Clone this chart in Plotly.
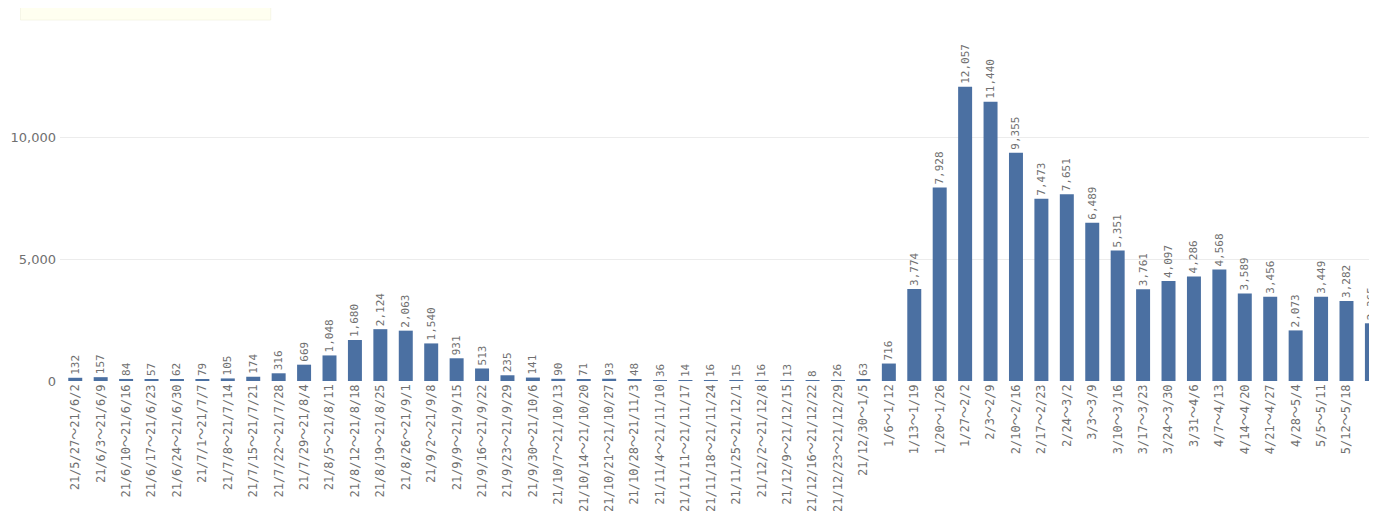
import plotly.graph_objects as go

categories = [
    "21/5/27～21/6/2", "21/6/3～21/6/9", "21/6/10～21/6/16", "21/6/17～21/6/23",
    "21/6/24～21/6/30", "21/7/1～21/7/7", "21/7/8～21/7/14", "21/7/15～21/7/21",
    "21/7/22～21/7/28", "21/7/29～21/8/4", "21/8/5～21/8/11", "21/8/12～21/8/18",
    "21/8/19～21/8/25", "21/8/26～21/9/1", "21/9/2～21/9/8", "21/9/9～21/9/15",
    "21/9/16～21/9/22", "21/9/23～21/9/29", "21/9/30～21/10/6", "21/10/7～21/10/13",
    "21/10/14～21/10/20", "21/10/21～21/10/27", "21/10/28～21/11/3", "21/11/4～21/11/10",
    "21/11/11～21/11/17", "21/11/18～21/11/24", "21/11/25～21/12/1", "21/12/2～21/12/8",
    "21/12/9～21/12/15", "21/12/16～21/12/22", "21/12/23～21/12/29", "21/12/30～1/5",
    "1/6～1/12", "1/13～1/19", "1/20～1/26", "1/27～2/2", "2/3～2/9", "2/10～2/16",
    "2/17～2/23", "2/24～3/2", "3/3～3/9", "3/10～3/16", "3/17～3/23", "3/24～3/30",
    "3/31～4/6", "4/7～4/13", "4/14～4/20", "4/21～4/27", "4/28～5/4", "5/5～5/11",
    "5/12～5/18", "5/19～5/25",
]
values = [
    132, 157, 84, 57, 62, 79, 105, 174, 316, 669, 1048, 1680, 2124, 2063, 1540, 931,
    513, 235, 141, 90, 71, 93, 48, 36, 14, 16, 15, 16, 13, 8, 26, 63,
    716, 3774, 7928, 12057, 11440, 9355, 7473, 7651, 6489, 5351, 3761, 4097,
    4286, 4568, 3589, 3456, 2073, 3449, 3282, 2365,
]
y_ticks = [0, 5000, 10000]
y_tick_text = ["0", "5,000", "10,000"]

BAR = "#4b70a2"
GRAY = "#707070"
MONO = "DejaVu Sans Mono, Noto Sans CJK JP"

fig = go.Figure(go.Bar(
    x=list(range(len(categories))),
    y=values,
    marker=dict(color=BAR, line=dict(width=0)),
    texttemplate="%{y:,}",
    textposition="outside",
    textangle=-90,
    textfont=dict(family=MONO, size=11, color=GRAY),
    constraintext="none",
    cliponaxis=False,
    hoverinfo="skip",
))

fig.update_layout(
    width=1369, height=504,
    margin=dict(l=52, r=0, t=12, b=131),
    plot_bgcolor="white", paper_bgcolor="white",
    bargap=0.45,
    showlegend=False,
    uniformtext=dict(minsize=11, mode="show"),
    xaxis=dict(
        range=[-0.6, 51.2],
        automargin=False,
        tickmode="array",
        tickvals=list(range(len(categories))),
        ticktext=categories,
        tickangle=-90,
        tickfont=dict(family=MONO, size=12, color=GRAY),
        showgrid=False, zeroline=False, showline=False, ticks="",
    ),
    yaxis=dict(
        range=[0, 14795],
        automargin=False,
        tickmode="array",
        tickvals=y_ticks,
        ticktext=y_tick_text,
        tickfont=dict(family="DejaVu Sans", size=13, color=GRAY),
        ticklabelstandoff=3,
        showgrid=True, gridcolor="#ececec", gridwidth=1,
        zeroline=False, showline=False, ticks="",
    ),
    shapes=[dict(
        type="rect", xref="paper", yref="paper",
        x0=-0.03, x1=0.16, y0=1.0, y1=1.035,
        line=dict(color="rgba(240,240,220,0.6)", width=1),
        fillcolor="rgba(255,255,225,0.5)", layer="below",
    )],
)

fig.write_html("out.html")
